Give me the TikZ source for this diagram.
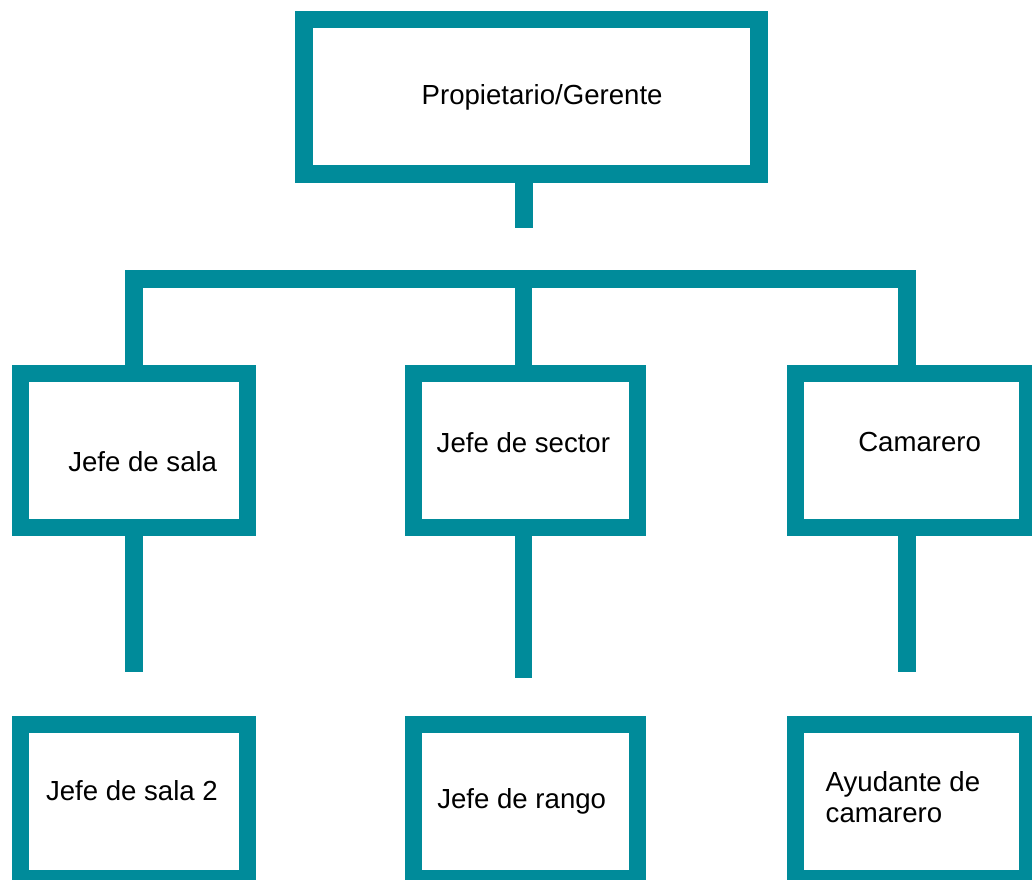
\documentclass[tikz,border=0pt]{standalone}
\usepackage{fontspec}
\setmainfont{Liberation Sans}
\definecolor{tealline}{RGB}{0,139,154}
\begin{document}
\begin{tikzpicture}[x=1pt,y=-1pt,
  orgbox/.style={draw=tealline, line width=17.5pt, inner sep=0pt, outer sep=0pt,
    minimum height=154.4pt},
  link/.style={draw=tealline, line width=17.5pt, line join=miter, line cap=butt},
  lbl/.style={anchor=base west, inner sep=0pt, outer sep=0pt,
    font=\fontsize{27.6}{31}\selectfont}]
\useasboundingbox (0,0) rectangle (1032,879);
\clip (0,0) rectangle (1032,879);
% boxes
\node[orgbox, minimum width=455pt, minimum height=154.3pt] (top) at (531.5,96.85) {};
\node[orgbox, minimum width=227.2pt] (b1) at (133.9,450.5) {};
\node[orgbox, minimum width=224.4pt] (b2) at (525.5,450.5) {};
\node[orgbox, minimum width=232.4pt] (b3) at (911.5,450.5) {};
\node[orgbox, minimum width=227.2pt] (c1) at (133.9,801.5) {};
\node[orgbox, minimum width=224.4pt] (c2) at (525.5,801.5) {};
\node[orgbox, minimum width=232.4pt] (c3) at (911.5,801.5) {};
% labels
\node[lbl] (t0) at (421.7,104.3) {Propietario/Gerente};
\node[lbl] (t1) at (68.3,471.7) {Jefe de sala};
\node[lbl] (t2) at (436.7,452.7) {Jefe de sector};
\node[lbl] (t3) at (858.3,451.7) {Camarero};
\node[lbl] (t4) at (46,800.7) {Jefe de sala 2};
\node[lbl] (t5) at (437.3,808.3) {Jefe de rango};
\node[lbl] (t6) at (825.7,791.7) {Ayudante de};
\node[lbl] (t7) at (825.7,822.7) {camarero};
% connector coordinates
\coordinate (s0) at (524,227.7);
\coordinate (bL) at (134,279);
\coordinate (bM) at (523.5,279);
\coordinate (bR) at (907,279);
\coordinate (e1) at (134,671.7);
\coordinate (e2) at (523.5,677.7);
\coordinate (e3) at (907,671.7);
% connectors
\draw[link] (top.south -| s0) -- (s0);
\draw[link] (b1.north -| bL) -- (bL) -- (bR) -- (b3.north -| bR);
\draw[link] (bM) -- (b2.north -| bM);
\draw[link] (b1.south -| e1) -- (e1);
\draw[link] (b2.south -| e2) -- (e2);
\draw[link] (b3.south -| e3) -- (e3);
\end{tikzpicture}
\end{document}
